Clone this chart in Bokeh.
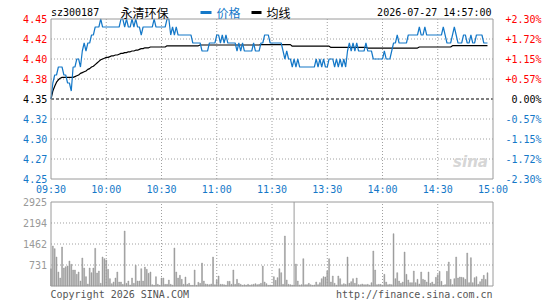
from bokeh.plotting import figure
from bokeh.models import Range1d, ColumnDataSource
from bokeh.core.properties import value
from bokeh.embed import file_html
from bokeh.resources import INLINE

# ---------------- data ----------------
stock_code = "sz300187"
stock_name = "永清环保"
stamp = "2026-07-27 14:57:00"
prev_close = 4.35
legend_names = ["价格", "均线"]
copyright_text = "Copyright 2026 SINA.COM"
url_text = "http://finance.sina.com.cn"

price = [
    4.35, 4.37, 4.38, 4.38, 4.39, 4.39, 4.39, 4.38, 4.38, 4.37,
    4.37, 4.36, 4.39, 4.39, 4.40, 4.40, 4.39, 4.41, 4.42, 4.41,
    4.42, 4.42, 4.43, 4.43, 4.44, 4.44, 4.44, 4.45, 4.44, 4.44,
    4.44, 4.44, 4.44, 4.44, 4.44, 4.44, 4.44, 4.44, 4.45, 4.45,
    4.44, 4.45, 4.44, 4.44, 4.45, 4.44, 4.45, 4.44, 4.44, 4.43,
    4.44, 4.44, 4.44, 4.44, 4.44, 4.44, 4.45, 4.44, 4.44, 4.44,
    4.44, 4.44, 4.44, 4.45, 4.45, 4.43, 4.44, 4.43, 4.44, 4.43,
    4.43, 4.43, 4.43, 4.43, 4.43, 4.43, 4.43, 4.42, 4.42, 4.42,
    4.42, 4.42, 4.41, 4.41, 4.41, 4.41, 4.42, 4.42, 4.42, 4.42,
    4.43, 4.43, 4.42, 4.43, 4.42, 4.43, 4.42, 4.42, 4.42, 4.42,
    4.42, 4.41, 4.42, 4.41, 4.42, 4.41, 4.41, 4.41, 4.41, 4.41,
    4.42, 4.41, 4.41, 4.41, 4.42, 4.42, 4.43, 4.43, 4.43, 4.42,
    4.42, 4.42, 4.42, 4.42, 4.42, 4.42, 4.41, 4.40, 4.41, 4.40,
    4.40, 4.39, 4.40, 4.39, 4.40, 4.39, 4.39, 4.39, 4.39, 4.39,
    4.39, 4.39, 4.39, 4.39, 4.40, 4.39, 4.40, 4.39, 4.40, 4.39,
    4.39, 4.40, 4.40, 4.40, 4.39, 4.40, 4.39, 4.40, 4.39, 4.40,
    4.39, 4.41, 4.42, 4.41, 4.42, 4.41, 4.42, 4.41, 4.41, 4.41,
    4.41, 4.42, 4.41, 4.41, 4.41, 4.40, 4.40, 4.40, 4.40, 4.40,
    4.40, 4.41, 4.40, 4.40, 4.40, 4.41, 4.42, 4.42, 4.43, 4.42,
    4.42, 4.42, 4.42, 4.42, 4.43, 4.43, 4.43, 4.43, 4.43, 4.43,
    4.44, 4.43, 4.43, 4.44, 4.43, 4.43, 4.43, 4.43, 4.43, 4.43,
    4.43, 4.43, 4.43, 4.44, 4.43, 4.42, 4.42, 4.42, 4.43, 4.44,
    4.43, 4.42, 4.42, 4.42, 4.43, 4.43, 4.42, 4.42, 4.43, 4.42,
    4.42, 4.43, 4.43, 4.43, 4.43, 4.42, 4.42, 4.42,
]

avg_price = [
    4.350, 4.360, 4.366, 4.371, 4.374, 4.376, 4.377, 4.377, 4.377, 4.377,
    4.377, 4.377, 4.377, 4.378, 4.379, 4.380, 4.382, 4.383, 4.384, 4.385,
    4.387, 4.388, 4.390, 4.391, 4.393, 4.395, 4.397, 4.399, 4.400, 4.401,
    4.402, 4.402, 4.403, 4.404, 4.404, 4.405, 4.405, 4.406, 4.407, 4.407,
    4.408, 4.408, 4.409, 4.409, 4.410, 4.410, 4.411, 4.411, 4.412, 4.413,
    4.413, 4.414, 4.414, 4.414, 4.415, 4.415, 4.415, 4.415, 4.415, 4.415,
    4.415, 4.415, 4.415, 4.4165, 4.4165, 4.4165, 4.4165, 4.4165, 4.4165, 4.4165,
    4.4165, 4.4165, 4.4165, 4.4165, 4.4165, 4.4165, 4.4165, 4.4165, 4.4165, 4.4165,
    4.4165, 4.4175, 4.4175, 4.4175, 4.4175, 4.4175, 4.4175, 4.4175, 4.4175, 4.4175,
    4.4175, 4.4175, 4.4175, 4.4175, 4.4175, 4.4175, 4.4175, 4.4175, 4.4175, 4.4175,
    4.4175, 4.4175, 4.4175, 4.4175, 4.4175, 4.4175, 4.4175, 4.4175, 4.4175, 4.4175,
    4.4175, 4.4175, 4.4175, 4.4175, 4.418, 4.418, 4.418, 4.418, 4.418, 4.418,
    4.418, 4.418, 4.418, 4.418, 4.418, 4.418, 4.418, 4.418, 4.418, 4.418,
    4.418, 4.416, 4.416, 4.416, 4.416, 4.416, 4.416, 4.416, 4.416, 4.416,
    4.416, 4.416, 4.416, 4.416, 4.416, 4.416, 4.416, 4.416, 4.416, 4.416,
    4.416, 4.416, 4.4145, 4.4145, 4.4145, 4.4145, 4.4145, 4.4145, 4.4145, 4.4145,
    4.4145, 4.4145, 4.4145, 4.4145, 4.4145, 4.4145, 4.4145, 4.4145, 4.4145, 4.4145,
    4.4145, 4.4145, 4.4137, 4.4137, 4.4137, 4.4137, 4.4137, 4.4137, 4.4137, 4.4137,
    4.4137, 4.4137, 4.4137, 4.4137, 4.4137, 4.4137, 4.4137, 4.4137, 4.4137, 4.4137,
    4.4137, 4.4137, 4.4137, 4.4137, 4.4137, 4.4137, 4.4137, 4.4137, 4.4137, 4.4137,
    4.415, 4.415, 4.415, 4.415, 4.415, 4.415, 4.415, 4.415, 4.415, 4.415,
    4.415, 4.415, 4.415, 4.415, 4.415, 4.415, 4.415, 4.415, 4.4166, 4.4166,
    4.4166, 4.4166, 4.4166, 4.4166, 4.4166, 4.4166, 4.4166, 4.4166, 4.4166, 4.4166,
    4.4166, 4.4166, 4.4166, 4.4166, 4.4166, 4.4166, 4.4166, 4.4166,
]

volume = [
    600, 1392, 1300, 1009, 487, 278, 1357, 626, 673, 696,
    870, 754, 557, 557, 406, 487, 174, 974, 626, 325,
    70, 626, 464, 626, 1311, 452, 522, 93, 1009, 951,
    905, 580, 255, 81, 139, 278, 487, 139, 139, 58,
    1914, 93, 174, 35, 278, 93, 719, 174, 174, 603,
    174, 661, 580, 441, 487, 46, 23, 325, 58, 23,
    278, 278, 58, 58, 209, 58, 30, 1322, 487, 278,
    371, 232, 58, 313, 58, 93, 23, 23, 557, 23,
    128, 93, 800, 174, 70, 58, 46, 70, 1009, 46,
    209, 348, 58, 58, 46, 30, 162, 162, 58, 557,
    58, 232, 93, 58, 23, 46, 30, 58, 30, 46,
    58, 81, 46, 58, 93, 696, 139, 81, 23, 35,
    20, 325, 197, 290, 603, 464, 58, 1740, 209, 58,
    46, 30, 20, 766, 174, 35, 46, 951, 46, 46,
    93, 46, 23, 35, 139, 46, 116, 255, 325, 313,
    522, 951, 139, 348, 93, 30, 348, 255, 46, 81,
    58, 1009, 93, 151, 255, 93, 278, 46, 46, 70,
    46, 46, 58, 30, 116, 1218, 557, 46, 58, 58,
    30, 406, 139, 46, 58, 46, 1821, 255, 464, 174,
    93, 139, 1183, 406, 209, 116, 116, 522, 116, 232,
    70, 487, 232, 209, 139, 487, 93, 139, 70, 302,
    394, 510, 162, 23, 46, 510, 835, 232, 46, 255,
    1009, 278, 313, 302, 290, 232, 1148, 116, 986, 116,
    290, 325, 60, 150, 240, 370, 230, 460,
]

minutes = list(range(len(price)))

session_start, session_end = 0, 240
cursor_minute = 132
time_ticks = [0, 30, 60, 90, 120, 150, 180, 210, 240]
time_labels = ["09:30", "10:00", "10:30", "11:00", "11:30",
               "13:30", "14:00", "14:30", "15:00"]
price_ticks = [4.45, 4.425, 4.40, 4.375, 4.35, 4.325, 4.30, 4.275, 4.25]
price_labels = ["4.45", "4.42", "4.40", "4.38", "4.35", "4.32", "4.30", "4.27", "4.25"]
pct_labels = ["+2.30%", "+1.72%", "+1.15%", "+0.57%", "0.00%",
              "-0.57%", "-1.15%", "-1.72%", "-2.30%"]
vol_ticks = [2925, 2194, 1462, 731]
vol_labels = ["2925", "2194", "1462", "731"]
vol_max = 2925

# ---------------- styles / pixel geometry ----------------
W, H = 545, 300
BLUE = "#1478C8"
RED = "#FF0000"
FRAME = "#9A9A9A"
GRIDC = "#A0A0A0"
MONO = "DejaVu Sans Mono"
CJK = "Noto Sans CJK SC"

FX0, FX1 = 50.5, 492.5          # plot frame left/right in pixels
PY_TOP, PY_BOT = 18.5, 178.5    # price frame top/bottom
VY_TOP, VY_BOT = 201.5, 285.5   # volume frame top/bottom
p_lo, p_hi = price_ticks[-1], price_ticks[0]

mpp = (session_end - session_start) / (FX1 - FX0)         # minutes per pixel
ppp = (p_hi - p_lo) / (PY_BOT - PY_TOP)                   # price per pixel
vpp = vol_max / (VY_BOT - VY_TOP)                         # volume per pixel

def mx(px):   # pixel x -> minute
    return session_start + (px - FX0) * mpp

def py(pyx):  # pixel y -> price
    return p_hi - (pyx - PY_TOP) * ppp

def vy(pyx):  # pixel y -> volume
    return (VY_BOT - pyx) * vpp

def tick_color(v):
    if v > prev_close + 1e-9:
        return RED
    if v < prev_close - 1e-9:
        return BLUE
    return "#000000"

p = figure(width=W, height=H, output_backend="svg", toolbar_location=None,
           x_range=Range1d(mx(0), mx(W)), y_range=Range1d(py(H), py(0)),
           x_axis_location=None, y_axis_location=None, min_border=0)
p.extra_y_ranges = {"vol": Range1d(vy(H), vy(0))}
p.outline_line_color = None
p.xgrid.visible = False
p.ygrid.visible = False
p.background_fill_color = "white"
p.border_fill_color = "white"

inner_t = time_ticks[1:-1]
dot = "1 2"

# price panel grid
p.segment(x0=inner_t, x1=inner_t, y0=[p_lo] * len(inner_t), y1=[p_hi] * len(inner_t),
          line_color=GRIDC, line_dash=dot, line_width=1)
hp = [t for t in price_ticks[1:-1] if abs(t - prev_close) > 1e-9]
p.segment(x0=[session_start] * len(hp), x1=[session_end] * len(hp), y0=hp, y1=hp,
          line_color=GRIDC, line_dash=dot, line_width=1)
p.segment(x0=[session_start], x1=[session_end], y0=[prev_close], y1=[prev_close],
          line_color="black", line_dash="3 2", line_width=1)

# volume panel grid
p.segment(x0=inner_t, x1=inner_t, y0=[0] * len(inner_t), y1=[vol_max] * len(inner_t),
          line_color=GRIDC, line_dash=dot, line_width=1, y_range_name="vol")
hv = vol_ticks[1:]
p.segment(x0=[session_start] * len(hv), x1=[session_end] * len(hv), y0=hv, y1=hv,
          line_color=GRIDC, line_dash=dot, line_width=1, y_range_name="vol")
p.segment(x0=[cursor_minute], x1=[cursor_minute], y0=[0], y1=[vol_max],
          line_color=FRAME, line_width=1, y_range_name="vol")

# data
p.vbar(x=minutes, top=volume, width=0.5, fill_color="#999999", line_color="#999999",
       line_width=0.5, y_range_name="vol")
p.line(minutes, avg_price, line_color="black", line_width=1.2)
p.line(minutes, price, line_color=BLUE, line_width=1.2)

# frames
p.quad(left=[session_start], right=[session_end], bottom=[p_lo], top=[p_hi],
       fill_alpha=0, line_color=FRAME, line_width=1)
p.quad(left=[session_start], right=[session_end], bottom=[0], top=[vol_max],
       fill_alpha=0, line_color=FRAME, line_width=1, y_range_name="vol")

# tick labels
txt = dict(text_font=value(MONO), text_font_size="10px", text_baseline="middle")
p.text(x=[mx(46.7)] * len(price_ticks), y=price_ticks, text=price_labels,
       text_color=[tick_color(v) for v in price_ticks], text_align="right", **txt)
p.text(x=[mx(541)] * len(price_ticks), y=price_ticks, text=pct_labels,
       text_color=[tick_color(v) for v in price_ticks], text_align="right", **txt)
p.text(x=time_ticks, y=[py(189)] * len(time_ticks), text=time_labels,
       text_color=BLUE, text_align="center", **txt)
p.text(x=[mx(46.5)] * len(vol_ticks), y=vol_ticks, text=vol_labels,
       text_color="#999999", text_align="right", y_range_name="vol", **txt)

# header
hy = py(12)
p.text(x=[mx(50.5)], y=[hy], text=[stock_code], text_color="black", text_align="left", **txt)
cjk = dict(text_font=value(CJK), text_font_size="12px", text_baseline="middle",
           text_align="left")
p.text(x=[mx(120)], y=[hy], text=[stock_name], text_color="black", **cjk)
p.segment(x0=[mx(200)], x1=[mx(211)], y0=[hy], y1=[hy], line_color=BLUE, line_width=3)
p.text(x=[mx(216)], y=[hy], text=[legend_names[0]], text_color=BLUE, **cjk)
p.segment(x0=[mx(251)], x1=[mx(261)], y0=[hy], y1=[hy], line_color="black", line_width=3)
p.text(x=[mx(266)], y=[hy], text=[legend_names[1]], text_color="black", **cjk)
p.text(x=[mx(491)], y=[hy], text=[stamp], text_color="black", text_align="right", **txt)

# watermark
p.text(x=[mx(470)], y=[py(161)], text=["sina"], text_color="#D6D6D6",
       text_font=value("DejaVu Sans"), text_font_size="15px",
       text_font_style="bold italic", text_align="center", text_baseline="middle")

# footer
p.text(x=[mx(50)], y=[vy(293.5)], text=[copyright_text], text_color="#555555",
       text_align="left", y_range_name="vol", **txt)
p.text(x=[mx(492)], y=[vy(293.5)], text=[url_text], text_color="#555555",
       text_align="right", y_range_name="vol", **txt)

open("out.html", "w").write(file_html(p, INLINE))
